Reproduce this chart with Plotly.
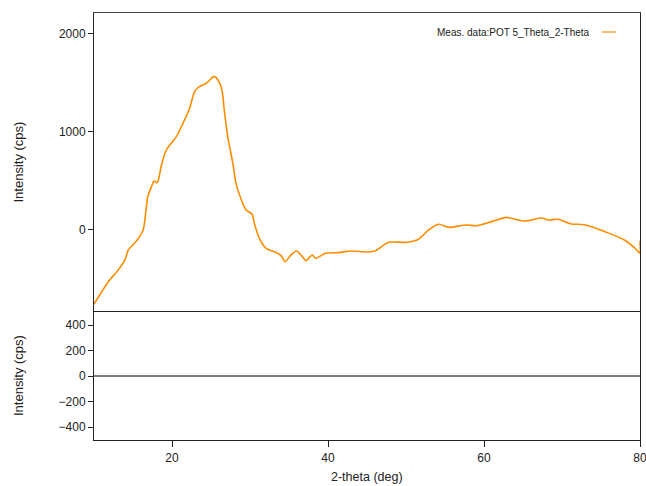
import plotly.graph_objects as go

two_theta = [10.0, 12.0, 13.0, 13.96, 14.4, 15.0, 15.66, 16.3, 16.9, 17.37, 17.7, 18.1,
             18.65, 19.28, 20.56, 21.4, 22.26, 22.9, 23.5, 24.4, 25.2, 25.45, 25.9, 26.4,
             26.7, 27.15, 27.8, 28.2, 28.9, 29.5, 30.27, 30.56, 31.2, 32.06, 33.3, 34.0,
             34.5, 35.25, 35.97, 36.6, 37.2, 37.6, 38.0, 38.4, 39.7, 41.4, 42.9, 45.2,
             46.1, 47.8, 50.1, 51.6, 52.9, 54.2, 55.5, 57.6, 59.1, 61.0, 62.9, 64.0,
             65.3, 67.4, 68.2, 69.5, 71.2, 72.9, 75.5, 78.0, 79.5, 79.95, 80.0]
intensity = [-755, -510, -420, -306, -204, -150, -90, 0, 340, 442, 500, 483,
             663, 816, 952, 1088, 1242, 1412, 1463, 1497, 1558, 1565, 1531, 1429,
             1224, 952, 680, 476, 306, 204, 160, 68, -85, -187, -228, -265,
             -323, -255, -214, -262, -313, -280, -255, -289, -238, -231, -214, -224,
             -211, -126, -126, -95, 0, 58, 27, 51, 44, 85, 129, 109,
             92, 122, 102, 109, 61, 54, -17, -102, -197, -235, -110]

diff_x = [10.0, 80.0]
diff_y = [0, 0]

legend_label = "Meas. data:POT 5_Theta_2-Theta"
y_title = "Intensity (cps)"
x_title = "2-theta (deg)"

ORANGE = "#FF8C00"
AX = "#222222"
FONT = "Liberation Sans, Arial, sans-serif"

fig = go.Figure()
fig.add_trace(go.Scatter(x=two_theta, y=intensity, mode="lines",
                         line=dict(color=ORANGE, width=1.6, shape="spline", smoothing=0.8),
                         xaxis="x2", yaxis="y2", showlegend=False, name=legend_label))
fig.add_trace(go.Scatter(x=diff_x, y=diff_y, mode="lines",
                         line=dict(color="#000000", width=1),
                         xaxis="x", yaxis="y", showlegend=False))

split = 128 / 427

tickfont = dict(family=FONT, size=12, color=AX)

fig.update_layout(
    width=646, height=486,
    margin=dict(l=94, r=6, t=13, b=46, autoexpand=False),
    paper_bgcolor="white", plot_bgcolor="white",
    font=dict(family=FONT, size=12, color=AX),
    xaxis=dict(domain=[0, 1], range=[10, 80], tick0=0, dtick=20, zeroline=False,
               anchor="y", showgrid=False, showline=True, linecolor=AX, linewidth=1,
               mirror=True, ticks="outside", ticklen=6, tickcolor=AX, tickfont=tickfont,
               ticklabeloverflow="allow", ticklabelstandoff=1, automargin=False),
    yaxis=dict(domain=[0, split], range=[-502, 502], tick0=0, dtick=200,
               zeroline=False, anchor="x", showgrid=False, showline=True, linecolor=AX,
               linewidth=1, mirror=True, ticks="outside", ticklen=5, tickcolor=AX,
               tickfont=tickfont, automargin=False),
    xaxis2=dict(domain=[0, 1], range=[10, 80], anchor="y2", matches="x", side="top",
                showticklabels=False, zeroline=False, showgrid=False, showline=True,
                linecolor="#444444", linewidth=1, mirror=False, ticks="", automargin=False),
    yaxis2=dict(domain=[split, 1], range=[-837, 2214], tick0=0, dtick=1000,
                zeroline=False, anchor="x2", showgrid=False, showline=True, linecolor=AX,
                linewidth=1, mirror=True, ticks="outside", ticklen=5, tickcolor=AX,
                tickfont=tickfont, automargin=False),
    showlegend=False,
)

def px_x(p):
    return (p - 94) / 546

def px_y(p):
    return (440 - p) / 427

fig.add_annotation(text=y_title, x=px_x(18), y=(split + 1) / 2, xref="paper", yref="paper",
                   xanchor="center", yanchor="middle",
                   textangle=-90, showarrow=False, font=dict(family=FONT, size=13, color=AX))
fig.add_annotation(text=y_title, x=px_x(18), y=split / 2, xref="paper", yref="paper",
                   xanchor="center", yanchor="middle",
                   textangle=-90, showarrow=False, font=dict(family=FONT, size=13, color=AX))
fig.add_annotation(text=x_title, x=0.5, y=px_y(477), xref="paper", yref="paper",
                   xanchor="center", yanchor="middle",
                   showarrow=False, font=dict(family=FONT, size=12.5, color=AX))
fig.add_annotation(text=legend_label, x=px_x(592), y=px_y(32), xref="paper", yref="paper",
                   xanchor="right", yanchor="middle", showarrow=False,
                   font=dict(family=FONT, size=10, color=AX))
fig.add_shape(type="line", xref="paper", yref="paper", x0=px_x(602), x1=px_x(616),
              y0=px_y(32), y1=px_y(32), line=dict(color=ORANGE, width=1.2))

fig.write_html("out.html", config={"displayModeBar": False},
               post_script="document.body.style.margin='0';document.body.style.overflow='hidden';")
